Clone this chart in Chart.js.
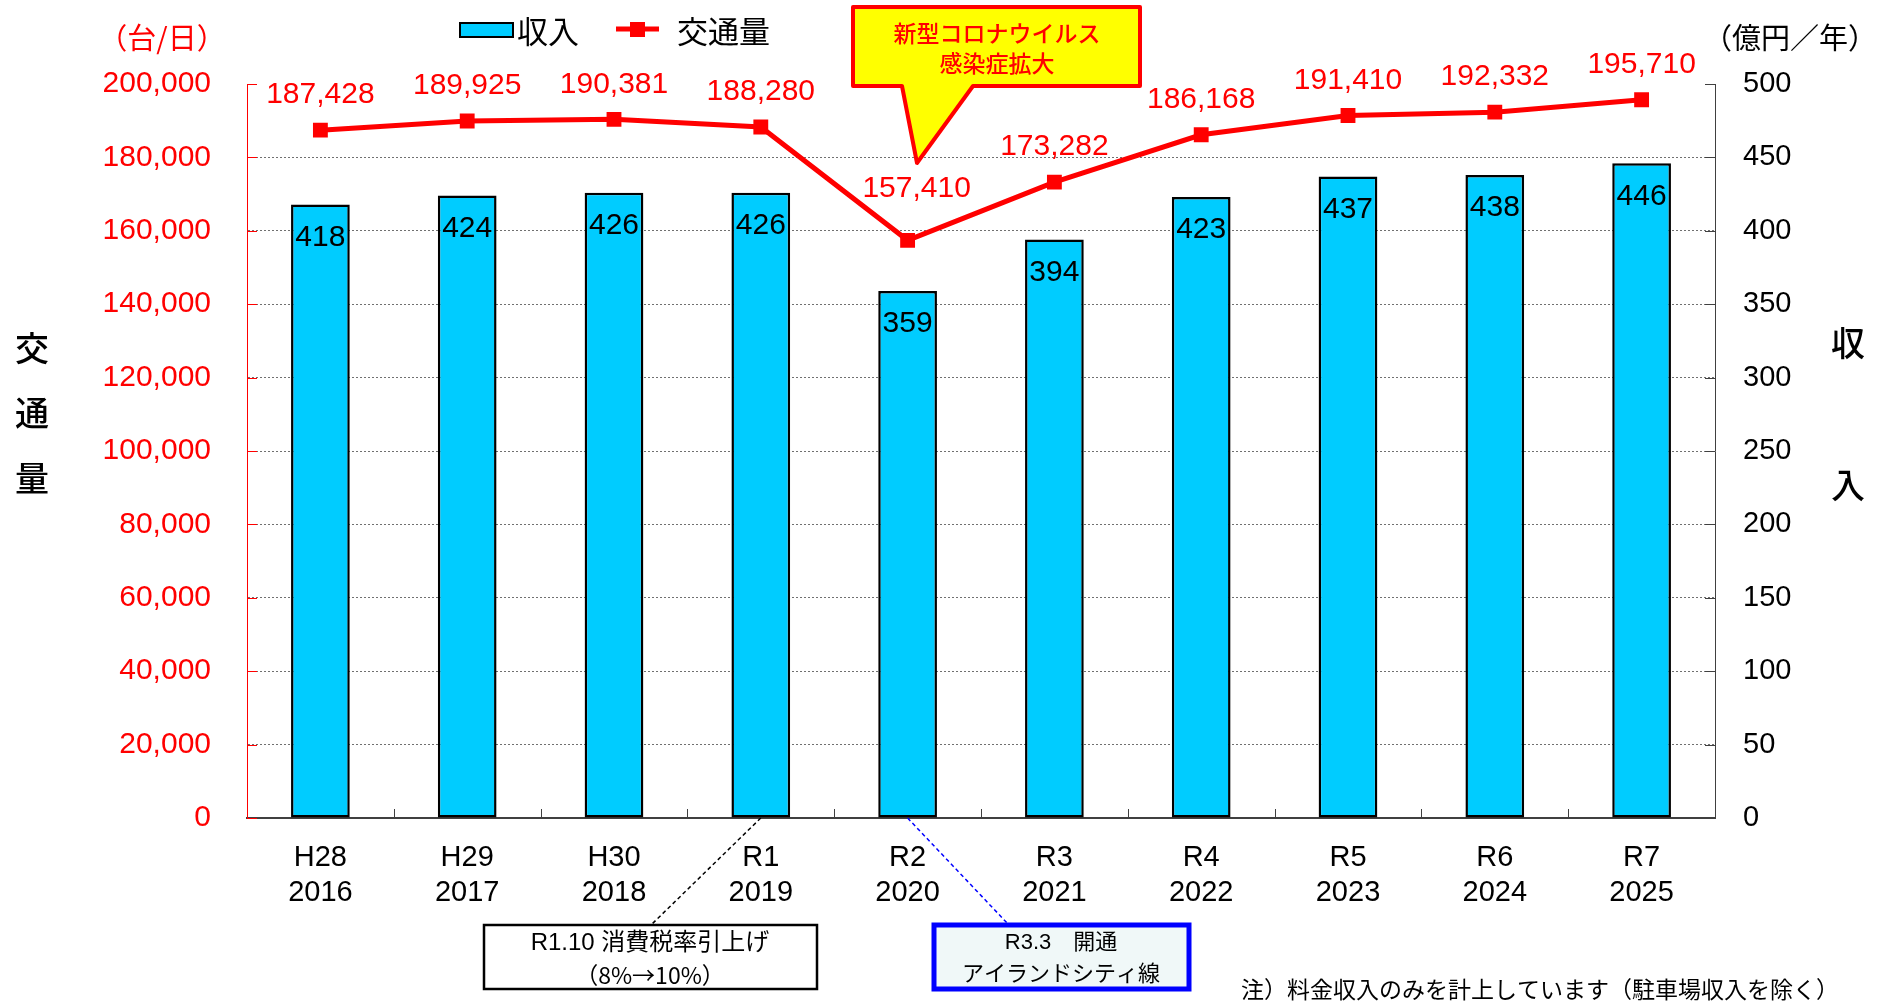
<!DOCTYPE html>
<html><head><meta charset="utf-8">
<script src="https://cdn.jsdelivr.net/npm/chart.js@4.4.1/dist/chart.umd.min.js"></script>
<style>html,body{margin:0;padding:0;background:#fff;}canvas{display:block;}</style>
</head><body>
<canvas id="c" width="1883" height="1003"></canvas>
<script>
// ---- data ----
const eraLabels  = ["H28","H29","H30","R1","R2","R3","R4","R5","R6","R7"];
const yearLabels = ["2016","2017","2018","2019","2020","2021","2022","2023","2024","2025"];
const revenue    = [418, 424, 426, 426, 359, 394, 423, 437, 438, 446];          // 億円／年
const traffic    = [187428, 189925, 190381, 188280, 157410, 173282, 186168, 191410, 192332, 195710]; // 台/日
const trafficAxis = {min: 0, max: 200000, step: 20000};
const revenueAxis = {min: 0, max: 500, step: 50};
const seriesNames = {revenue: "収入", traffic: "交通量"};
const leftUnit = "（台/日）";
const rightUnit = "（億円／年）";
const leftTitle = ["交","通","量"];
const rightTitle = ["収","入"];
const calloutText = ["新型コロナウイルス","感染症拡大"];
const note1 = ["R1.10 消費税率引上げ","（8%→10%）"];
const note2 = ["R3.3　開通","アイランドシティ線"];
const footnote = "注）料金収入のみを計上しています（駐車場収入を除く）";

const LATIN = '"Liberation Sans", Arial, "Noto Sans CJK JP", sans-serif';
const JP = '"Noto Sans CJK JP", "Liberation Sans", sans-serif';
const RED = '#FF0000', CYAN = '#00CCFF';
const fmt = v => v.toLocaleString('en-US');

const labels = eraLabels.map((e, i) => [e, yearLabels[i]]);

const deco = {
  id: 'deco',
  beforeDatasetsDraw(chart) {
    const {ctx, chartArea: a, scales: {x, y, y1}} = chart;
    ctx.save();
    ctx.lineWidth = 1;
    ctx.strokeStyle = RED;
    y.ticks.forEach(t => {
      const py = Math.round(y.getPixelForValue(t.value)) + 0.5;
      ctx.beginPath(); ctx.moveTo(a.left, py); ctx.lineTo(a.left + 10, py); ctx.stroke();
    });
    ctx.strokeStyle = '#404040';
    y1.ticks.forEach(t => {
      const py = Math.round(y1.getPixelForValue(t.value)) + 0.5;
      ctx.beginPath(); ctx.moveTo(a.right - 10, py); ctx.lineTo(a.right, py); ctx.stroke();
    });
    const half = (x.getPixelForValue(1) - x.getPixelForValue(0)) / 2;
    for (let i = 1; i < labels.length; i++) {
      const px = Math.round(x.getPixelForValue(i) - half) + 0.5;
      ctx.beginPath(); ctx.moveTo(px, a.bottom); ctx.lineTo(px, a.bottom - 9); ctx.stroke();
    }
    ctx.restore();
  },
  afterDatasetsDraw(chart) {
    const {ctx} = chart;
    ctx.save();
    ctx.textAlign = 'center'; ctx.textBaseline = 'middle';
    // bar labels
    const barMeta = chart.getDatasetMeta(0);
    ctx.fillStyle = '#000';
    ctx.font = '30px ' + LATIN;
    barMeta.data.forEach((el, i) => {
      ctx.fillText(String(revenue[i]), el.x, el.y + 33);
    });
    // line labels
    const lineMeta = chart.getDatasetMeta(1);
    ctx.fillStyle = RED;
    lineMeta.data.forEach((el, i) => {
      const nudge = i === 4 ? {dx: 9, dy: -52} : {dx: 0, dy: -35};
      ctx.fillText(fmt(traffic[i]), el.x + nudge.dx, el.y + nudge.dy);
    });
    ctx.restore();
  },
  afterDraw(chart) {
    const {ctx, chartArea: a, scales: {x}} = chart;
    ctx.save();
    ctx.textBaseline = 'middle';
    // units
    ctx.font = '29px ' + JP;
    ctx.textAlign = 'center';
    ctx.fillStyle = RED;
    ctx.fillText(leftUnit, 162, 38);
    ctx.fillStyle = '#000';
    ctx.fillText(rightUnit, 1790, 38);
    // axis titles
    ctx.font = '500 34px ' + JP;
    const ly = [348, 413, 478];
    leftTitle.forEach((c, i) => ctx.fillText(c, 32, ly[i]));
    const ry = [343, 485];
    rightTitle.forEach((c, i) => ctx.fillText(c, 1848, ry[i]));

    // legend
    ctx.lineWidth = 2;
    ctx.fillStyle = CYAN; ctx.strokeStyle = '#000';
    ctx.fillRect(460, 23, 53, 14); ctx.strokeRect(460, 23, 53, 14);
    ctx.font = '31px ' + JP;
    ctx.textAlign = 'left'; ctx.fillStyle = '#000';
    ctx.fillText(seriesNames.revenue, 517, 31);
    ctx.strokeStyle = RED; ctx.lineWidth = 5;
    ctx.beginPath(); ctx.moveTo(616, 29); ctx.lineTo(659, 29); ctx.stroke();
    ctx.fillStyle = RED; ctx.fillRect(630, 22, 15, 15);
    ctx.fillStyle = '#000';
    ctx.fillText(seriesNames.traffic, 677, 31);

    // callout
    ctx.beginPath();
    ctx.moveTo(853, 7); ctx.lineTo(1140, 7); ctx.lineTo(1140, 86); ctx.lineTo(973, 86);
    ctx.lineTo(917, 163); ctx.lineTo(902, 86); ctx.lineTo(853, 86); ctx.closePath();
    ctx.fillStyle = '#FFFF00'; ctx.fill();
    ctx.lineJoin = 'round'; ctx.lineWidth = 4; ctx.strokeStyle = RED; ctx.stroke();
    ctx.fillStyle = RED; ctx.textAlign = 'center';
    ctx.font = '500 23px ' + JP;
    ctx.fillText(calloutText[0], 997, 33);
    ctx.fillText(calloutText[1], 997, 63);

    // connectors
    ctx.lineJoin = 'miter';
    ctx.lineWidth = 1.5; ctx.setLineDash([4, 3]);
    ctx.strokeStyle = '#000';
    ctx.beginPath(); ctx.moveTo(x.getPixelForValue(3), a.bottom); ctx.lineTo(651, 925); ctx.stroke();
    ctx.strokeStyle = '#0000FF';
    ctx.beginPath(); ctx.moveTo(x.getPixelForValue(4), a.bottom); ctx.lineTo(1008, 924); ctx.stroke();
    ctx.setLineDash([]);

    // note boxes
    ctx.fillStyle = '#FFFFFF'; ctx.fillRect(484, 925, 333, 64);
    ctx.strokeStyle = '#000'; ctx.lineWidth = 2.5; ctx.strokeRect(484, 925, 333, 64);
    ctx.fillStyle = '#F0F8F8'; ctx.fillRect(934, 925, 255, 64);
    ctx.strokeStyle = '#0000FF'; ctx.lineWidth = 5; ctx.strokeRect(934, 925, 255, 64);
    ctx.fillStyle = '#000';
    ctx.font = '24px ' + LATIN;
    ctx.fillText(note1[0], 650, 943);
    ctx.font = '23px ' + JP;
    ctx.fillText(note1[1], 650, 975);
    ctx.font = '22px ' + LATIN;
    ctx.fillText(note2[0], 1061, 943);
    ctx.fillText(note2[1], 1061, 975);

    // footnote
    ctx.textAlign = 'left';
    ctx.font = '23px ' + JP;
    ctx.fillText(footnote, 1241, 989);
    ctx.restore();
  }
};

new Chart(document.getElementById('c'), {
  data: {
    labels: labels,
    datasets: [
      {
        type: 'bar', label: seriesNames.revenue, data: revenue, yAxisID: 'y1', order: 2,
        backgroundColor: CYAN, borderColor: '#000', borderWidth: 2.5, borderSkipped: false,
        barPercentage: 0.4, categoryPercentage: 1.0
      },
      {
        type: 'line', label: seriesNames.traffic, data: traffic, yAxisID: 'y', order: 1,
        borderColor: RED, borderWidth: 5, tension: 0,
        pointStyle: 'rect', pointRadius: 10.5, pointBackgroundColor: RED, pointBorderWidth: 0,
        pointHoverRadius: 10.5
      }
    ]
  },
  options: {
    responsive: false,
    animation: false,
    events: [],
    layout: {padding: {top: 84, left: 0, right: 0, bottom: 0}},
    plugins: {legend: {display: false}, tooltip: {enabled: false}},
    scales: {
      x: {
        type: 'category',
        afterFit(s) { s.height = 185; },
        grid: {display: false, drawTicks: false},
        border: {display: true, color: '#404040', width: 2},
        ticks: {color: '#000', font: {family: LATIN, size: 29}, padding: 23, autoSkip: false, maxRotation: 0}
      },
      y: {
        position: 'left', min: trafficAxis.min, max: trafficAxis.max,
        afterFit(s) { s.width = 247; },
        ticks: {stepSize: trafficAxis.step, color: RED, font: {family: LATIN, size: 30}, padding: 36,
                callback: v => fmt(v)},
        grid: {drawTicks: false, lineWidth: 1,
               color: c => (c.tick && (c.tick.value === trafficAxis.min || c.tick.value === trafficAxis.max)) ? 'rgba(0,0,0,0)' : '#707070'},
        border: {color: RED, width: 1, dash: [2, 2]}
      },
      y1: {
        position: 'right', min: revenueAxis.min, max: revenueAxis.max,
        afterFit(s) { s.width = 168; },
        ticks: {stepSize: revenueAxis.step, color: '#000', font: {family: LATIN, size: 29}, padding: 28},
        grid: {drawOnChartArea: false, drawTicks: false},
        border: {color: '#404040', width: 1}
      }
    }
  },
  plugins: [deco]
});
</script>
</body></html>
